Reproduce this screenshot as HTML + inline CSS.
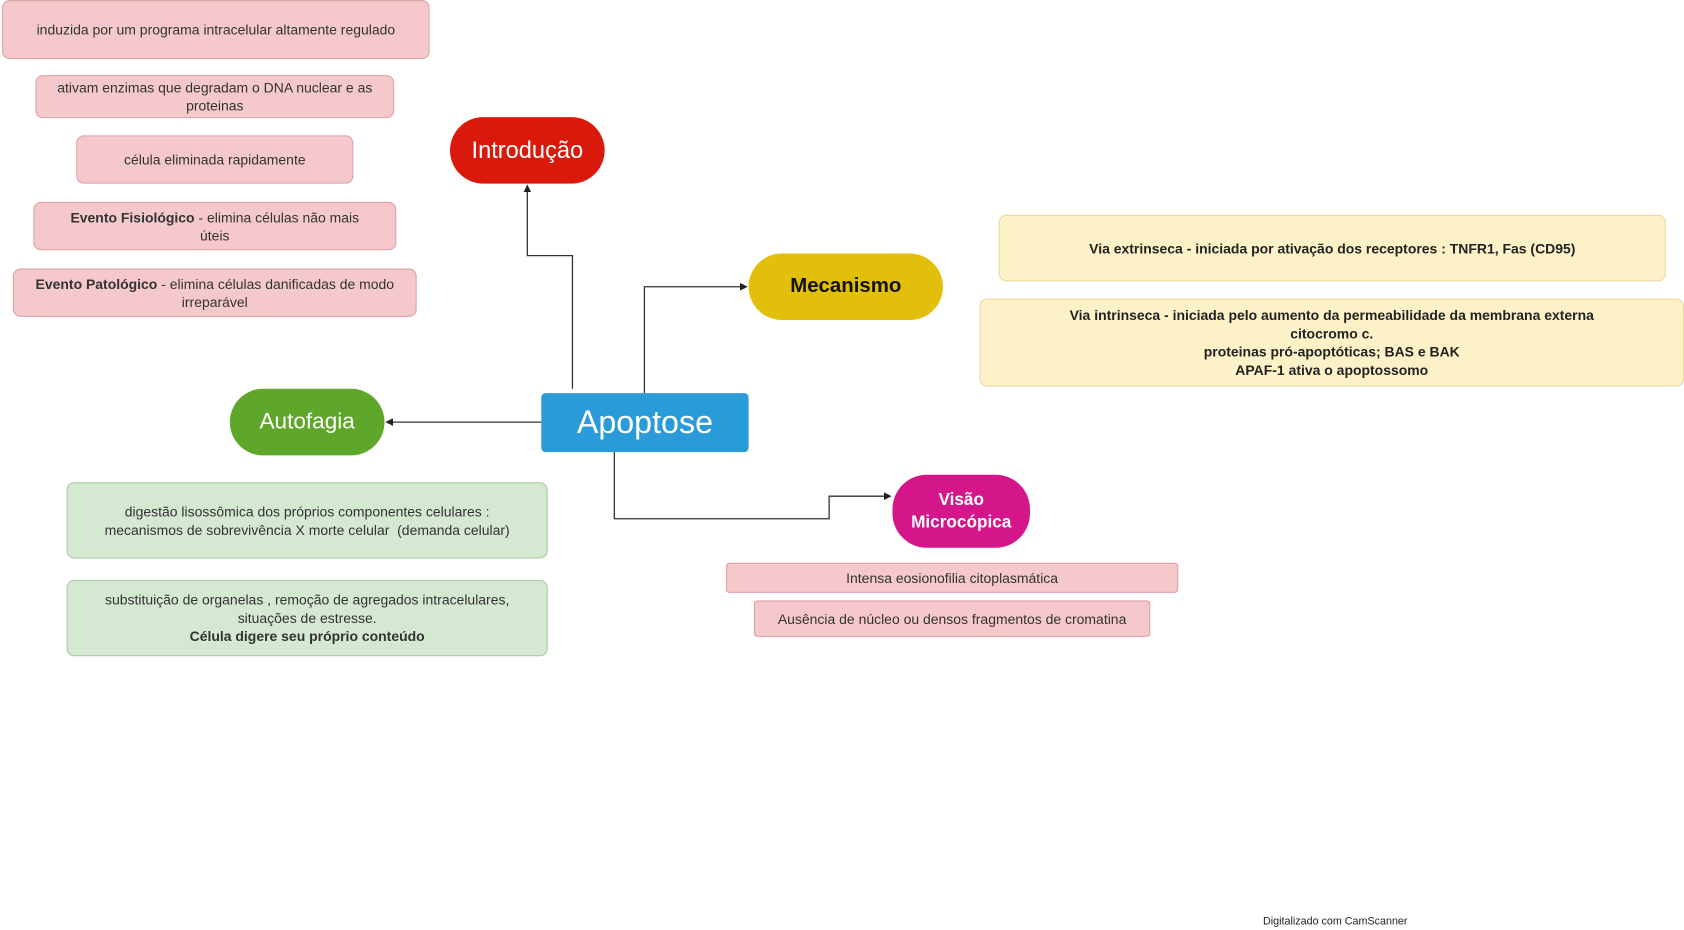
<!DOCTYPE html>
<html><head><meta charset="utf-8"><style>
html,body{margin:0;padding:0;background:#fff;}
body{width:1684px;height:930px;overflow:hidden;position:relative;}
#w{position:absolute;left:0;top:0;width:1568px;height:866px;transform:scale(1.074);transform-origin:0 0;font-family:"Liberation Sans",sans-serif;}
.b{position:absolute;box-sizing:border-box;display:flex;align-items:center;justify-content:center;text-align:center;color:#333;font-size:13px;line-height:17px;border-radius:7px;}
.p{background:#f5c9cb;border:1.5px solid #d9a3a8;}
.y{background:#fdf1c8;border:1.5px solid #e8d9a0;font-weight:bold;color:#222;}
.g{background:#d5e8d2;border:1.5px solid #aac9a4;}
.n{position:absolute;display:flex;align-items:center;justify-content:center;text-align:center;border-radius:32px;color:#fff;}
</style></head><body><div id="w">
<svg width="1568" height="866" style="position:absolute;left:0;top:0">
<defs><marker id="a" markerWidth="6" markerHeight="6" refX="5" refY="3" orient="auto"><path d="M0,0L6,3L0,6z" fill="#222"/></marker></defs>
<g fill="none" stroke="#333" stroke-width="1.2">
<path d="M533,362V238H491V173" marker-end="url(#a)"/>
<path d="M600,366V267H695" marker-end="url(#a)"/>
<path d="M504,393H360" marker-end="url(#a)"/>
<path d="M572,421V483H772V462H829" marker-end="url(#a)"/>
</g></svg>
<div class="b p" style="left:2px;top:0;width:398px;height:55px">induzida por um programa intracelular altamente regulado</div>
<div class="b p" style="left:33px;top:70px;width:334px;height:40px">ativam enzimas que degradam o DNA nuclear e as proteinas</div>
<div class="b p" style="left:71px;top:126px;width:258px;height:45px">célula eliminada rapidamente</div>
<div class="b p" style="left:31px;top:188px;width:338px;height:45px;padding:0 18px"><span><b>Evento Fisiológico</b> - elimina células não mais<br>úteis</span></div>
<div class="b p" style="left:12px;top:250px;width:376px;height:45px"><span><b>Evento Patológico</b> - elimina células danificadas de modo irreparável</span></div>
<div class="n" style="left:419px;top:109px;width:144px;height:62px;background:#d8190c;font-size:22px">Introdução</div>
<div class="n" style="left:697px;top:236px;width:181px;height:62px;background:#e2bf0b;font-size:19px;font-weight:bold;color:#111">Mecanismo</div>
<div class="n" style="left:504px;top:366px;width:193px;height:55px;border-radius:4px;background:#2a9bd9;font-size:30px">Apoptose</div>
<div class="n" style="left:214px;top:362px;width:144px;height:62px;background:#5ea72b;font-size:21px">Autofagia</div>
<div class="n" style="left:831px;top:442px;width:128px;height:68px;background:#d5168b;font-size:16px;font-weight:bold;line-height:21px">Visão<br>Microcópica</div>
<div class="b y" style="left:930px;top:200px;width:621px;height:62px">Via extrinseca - iniciada por ativação dos receptores : TNFR1, Fas (CD95)</div>
<div class="b y" style="left:912px;top:278px;width:656px;height:82px"><span>Via intrinseca - iniciada pelo aumento da permeabilidade da membrana externa<br>citocromo c.<br>proteinas pró-apoptóticas; BAS e BAK<br>APAF-1 ativa o apoptossomo</span></div>
<div class="b g" style="left:62px;top:449px;width:448px;height:71px"><span>digestão lisossômica dos próprios componentes celulares :<br>mecanismos de sobrevivência X morte celular &nbsp;(demanda celular)</span></div>
<div class="b g" style="left:62px;top:540px;width:448px;height:71px"><span>substituição de organelas , remoção de agregados intracelulares,<br>situações de estresse.<br><b>Célula digere seu próprio conteúdo</b></span></div>
<div class="b p" style="left:676px;top:524px;width:421px;height:28px;border-radius:3px">Intensa eosionofilia citoplasmática</div>
<div class="b p" style="left:702px;top:559px;width:369px;height:34px;border-radius:3px">Ausência de núcleo ou densos fragmentos de cromatina</div>
<div style="position:absolute;left:1176px;top:853px;font-size:10px;color:#222">Digitalizado com CamScanner</div>
</div></body></html>
